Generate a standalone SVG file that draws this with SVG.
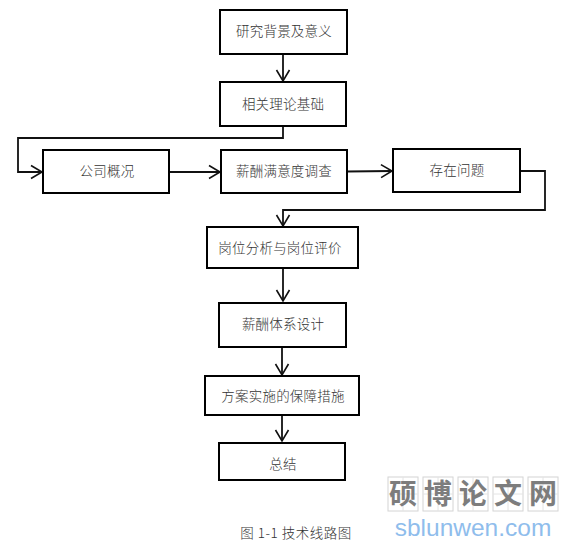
<svg xmlns="http://www.w3.org/2000/svg" width="576" height="548" viewBox="0 0 576 548">
<defs>
<marker id="arrow" markerUnits="userSpaceOnUse" markerWidth="16" markerHeight="16" refX="12" refY="8" orient="auto" overflow="visible">
<path d="M1 1.500L12 8L1 14.500" fill="none" stroke="#111" stroke-width="1.600"/>
</marker>
</defs>
<style>
.box{fill:#fff;stroke:#000;stroke-width:2}
.t{font-family:"Noto Sans CJK SC","Liberation Serif",serif;font-size:13.500px;font-weight:300;fill:#333;text-anchor:middle;letter-spacing:.2px}
.c{fill:none;stroke:#111;stroke-width:1.800;marker-end:url(#arrow)}
.grid{fill:#fff;stroke:#d4d4d4;stroke-width:1}
.gl{stroke:#e4e4e4;stroke-width:1}
.wm{font-family:"Noto Sans CJK SC",sans-serif;font-size:28px;font-weight:700;fill:#7d7d7d;text-anchor:middle}
</style>
<rect width="576" height="548" fill="#fff"/>
<g id="connectors">
<path class="c" d="M283 54V81"/>
<path class="c" d="M283 126V138H18V172H42"/>
<path class="c" d="M169 172H220"/>
<path class="c" d="M347 171.500L392 171"/>
<path class="c" d="M520 171H545V210H283V226"/>
<path class="c" d="M283 268V301"/>
<path class="c" d="M282 347V375"/>
<path class="c" d="M282 415V441"/>
</g>
<g id="n1"><rect class="box" x="220" y="10" width="127" height="44"/><text class="t" x="284" y="36">研究背景及意义</text></g>
<g id="n2"><rect class="box" x="220" y="82" width="126" height="44"/><text class="t" x="283" y="109">相关理论基础</text></g>
<g id="n3"><rect class="box" x="43" y="150" width="126" height="43"/><text class="t" x="107" y="176">公司概况</text></g>
<g id="n4"><rect class="box" x="221" y="150" width="126" height="43"/><text class="t" x="284" y="176">薪酬满意度调查</text></g>
<g id="n5"><rect class="box" x="393" y="149" width="127" height="43"/><text class="t" x="457" y="175">存在问题</text></g>
<g id="n6"><rect class="box" x="207" y="227" width="151" height="41"/><text class="t" x="280" y="253">岗位分析与岗位评价</text></g>
<g id="n7"><rect class="box" x="219" y="303" width="127" height="44"/><text class="t" x="283" y="329">薪酬体系设计</text></g>
<g id="n8"><rect class="box" x="205" y="376" width="154" height="39"/><text class="t" x="283" y="401">方案实施的保障措施</text></g>
<g id="n9"><rect class="box" x="219" y="443" width="126" height="37"/><text class="t" x="283" y="469">总结</text></g>
<text x="296" y="538" style="font-family:'Noto Sans CJK SC','Liberation Mono',monospace;font-size:13.500px;font-weight:300;fill:#333;text-anchor:middle;letter-spacing:.5px">图 1-1 技术线路图</text>
<g id="watermark">
<rect class="grid" x="388" y="477" width="30" height="34"/><rect class="grid" x="423" y="477" width="30" height="34"/><rect class="grid" x="458" y="477" width="30" height="34"/><rect class="grid" x="493" y="477" width="30" height="34"/><rect class="grid" x="528" y="477" width="30" height="34"/>
<path class="gl" d="M403 477V511M438 477V511M473 477V511M508 477V511M543 477V511M388 494H418M423 494H453M458 494H488M493 494H523M528 494H558"/>
<text class="wm" x="403" y="504">硕</text><text class="wm" x="438" y="504">博</text><text class="wm" x="473" y="504">论</text><text class="wm" x="508" y="504">文</text><text class="wm" x="543" y="504">网</text>
<text x="473" y="536" style="font-family:'Liberation Sans',sans-serif;font-size:24.500px;fill:#8fbdec;text-anchor:middle">sblunwen.com</text>
</g>
</svg>
